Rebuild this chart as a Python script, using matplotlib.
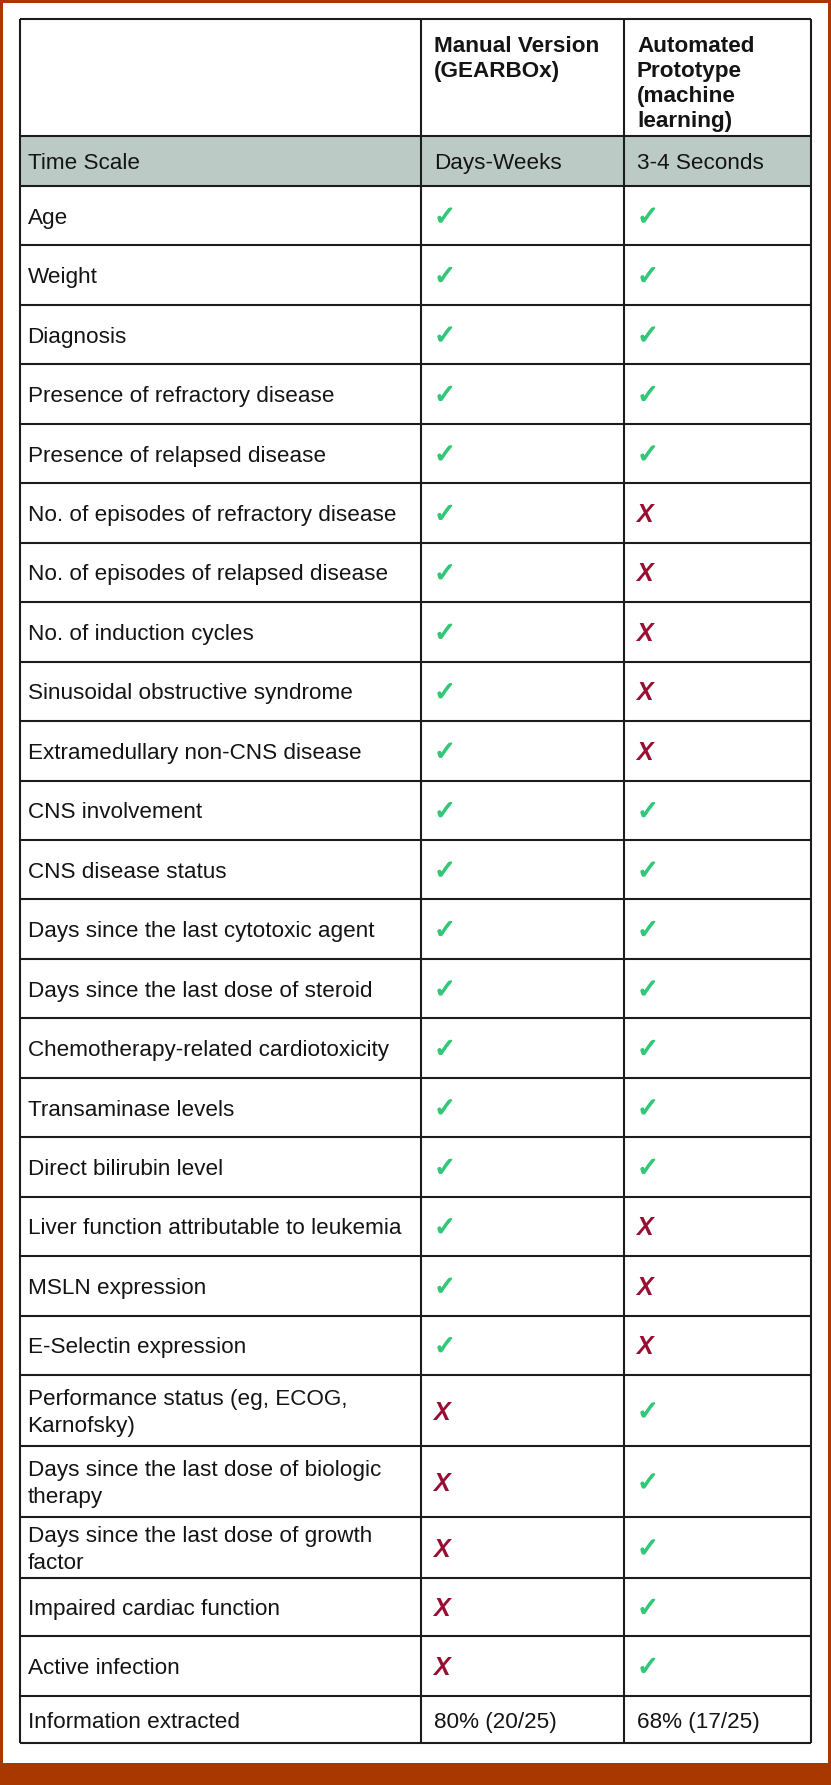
import matplotlib
matplotlib.use('Agg')
import matplotlib.pyplot as plt
import matplotlib.patheffects as pe
from matplotlib.patches import Rectangle

# table content
col_headers = [['Manual Version', '(GEARBOx)'],
               ['Automated', 'Prototype', '(machine', 'learning)']]
time_scale = ['Time Scale', 'Days-Weeks', '3-4 Seconds']
criteria = [
    ['Age'],
    ['Weight'],
    ['Diagnosis'],
    ['Presence of refractory disease'],
    ['Presence of relapsed disease'],
    ['No. of episodes of refractory disease'],
    ['No. of episodes of relapsed disease'],
    ['No. of induction cycles'],
    ['Sinusoidal obstructive syndrome'],
    ['Extramedullary non-CNS disease'],
    ['CNS involvement'],
    ['CNS disease status'],
    ['Days since the last cytotoxic agent'],
    ['Days since the last dose of steroid'],
    ['Chemotherapy-related cardiotoxicity'],
    ['Transaminase levels'],
    ['Direct bilirubin level'],
    ['Liver function attributable to leukemia'],
    ['MSLN expression'],
    ['E-Selectin expression'],
    ['Performance status (eg, ECOG,', 'Karnofsky)'],
    ['Days since the last dose of biologic', 'therapy'],
    ['Days since the last dose of growth', 'factor'],
    ['Impaired cardiac function'],
    ['Active infection'],
]
manual = [1] * 20 + [0] * 5
automated = [1, 1, 1, 1, 1, 0, 0, 0, 0, 0, 1, 1, 1, 1, 1, 1, 1, 0, 0, 0, 1, 1, 1, 1, 1]
extracted = ['Information extracted', '80% (20/25)', '68% (17/25)']

# layout (pixels)
W, H = 831, 1785
x_cols = [19.5, 421, 624, 811]
top = 19
h_header = 117
h_time = 50
h_rows = [59.45] * 20 + [71, 71, 61, 58, 60]
h_info = 47

border = '#a83800'
line_c = '#1c1c1c'
fill_time = '#bccac5'
green = '#33c878'
red = '#990f33'
txt_c = '#141414'
FS = 16.2
cap = 0.716 * FS / 0.72
lsp = 27

fig = plt.figure(figsize=(W / 100, H / 100), dpi=100)
ax = fig.add_axes([0, 0, 1, 1])
ax.set_xlim(0, W)
ax.set_ylim(H, 0)
ax.axis('off')

# orange frame
ax.add_patch(Rectangle((0, 0), W, 2.5, color=border, lw=0))
ax.add_patch(Rectangle((0, 0), 3, H, color=border, lw=0))
ax.add_patch(Rectangle((827.5, 0), 3.5, H, color=border, lw=0))
ax.add_patch(Rectangle((0, 1763), W, H - 1763, color=border, lw=0))

# row boundaries
edges = [top, top + h_header, top + h_header + h_time]
for h in h_rows + [h_info]:
    edges.append(edges[-1] + h)

ax.add_patch(Rectangle((x_cols[0], edges[1]), x_cols[-1] - x_cols[0], h_time,
                       color=fill_time, lw=0))


def cell_text(lines, col, y0, y1, **kw):
    pad = 8 if col == 0 else 13
    n = len(lines)
    yc = (y0 + y1) / 2
    for i, s in enumerate(lines):
        yb = yc + cap / 2 + (i - (n - 1) / 2) * lsp
        ax.text(x_cols[col] + pad, yb, s, fontsize=FS, color=txt_c,
                family='Liberation Sans', va='baseline', ha='left', **kw)


def mark(val, col, y0, y1):
    x = x_cols[col] + 13
    yc = (y0 + y1) / 2
    if val:
        ax.text(x, yc + 9, '\u2713', fontsize=19, color=green,
                family='DejaVu Sans', va='baseline', ha='left',
                path_effects=[pe.withStroke(linewidth=0.9, foreground=green)])
    else:
        ax.text(x - 1, yc + 9, 'X', fontsize=18, color=red, family='Liberation Sans',
                weight='bold', style='italic', va='baseline', ha='left')


# header
for c, lines in enumerate(col_headers):
    for i, s in enumerate(lines):
        ax.text(x_cols[c + 1] + 13, top + 32.5 + i * 25, s, fontsize=FS,
                family='Liberation Sans', weight='bold', color=txt_c,
                va='baseline', ha='left')

# time scale row
for c, s in enumerate(time_scale):
    cell_text([s], c, edges[1], edges[2])

# criteria rows
for r, lines in enumerate(criteria):
    y0, y1 = edges[r + 2], edges[r + 3]
    cell_text(lines, 0, y0, y1)
    mark(manual[r], 1, y0, y1)
    mark(automated[r], 2, y0, y1)

# summary row
for c, s in enumerate(extracted):
    cell_text([s], c, edges[-2], edges[-1])

# grid lines
ax.hlines(edges, x_cols[0], x_cols[-1], color=line_c, lw=1.5)
ax.vlines(x_cols, edges[0], edges[-1], color=line_c, lw=1.5)

fig.savefig('out.png', dpi=100, facecolor='white')
